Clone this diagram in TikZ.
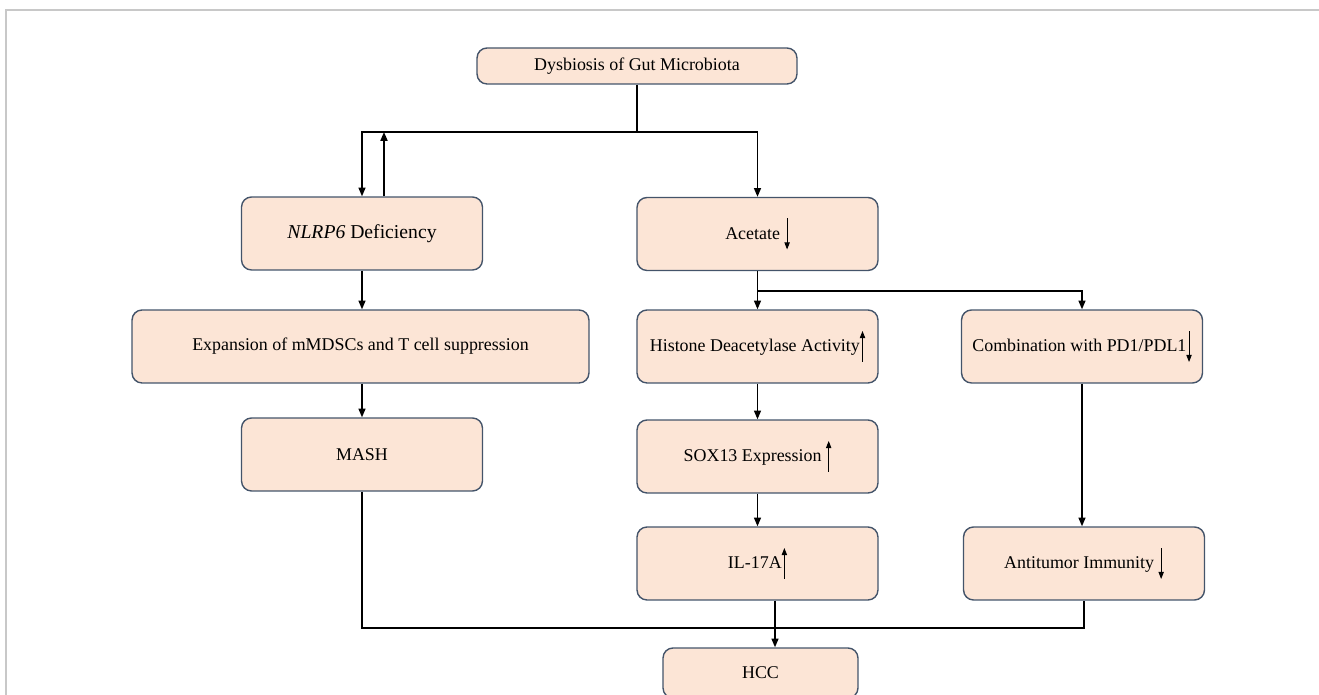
\documentclass[tikz,border=0pt]{standalone}
\usepackage{fontspec}
\setmainfont{Liberation Serif}
\usetikzlibrary{arrows.meta, positioning}

\definecolor{boxfill}{RGB}{252,229,214}
\definecolor{boxline}{RGB}{68,84,106}
\definecolor{framegray}{RGB}{200,200,200}

% small up / down arrows set inside the box texts
\newcommand{\uparr}{\tikz[baseline=0pt, x=1cm, y=1cm]\draw[line width=0.5pt, -{Triangle[length=4pt,width=3pt]}] (0,-0.2) -- (0,0.42);}
\newcommand{\dnarr}{\tikz[baseline=0pt, x=1cm, y=1cm]\draw[line width=0.5pt, -{Triangle[length=4pt,width=3pt]}] (0,0.42) -- (0,-0.2);}

\begin{document}
\begin{tikzpicture}[x=0.02cm, y=-0.02cm]
		\tikzset{block/.style = {shape=rectangle, rounded corners=0.2cm, draw=boxline, line width=0.8pt, fill=boxfill,
				minimum width=4.82cm, minimum height=1.46cm, inner sep=2pt, font=\fontsize{10.2}{12}\selectfont}}
		\tikzset{edge/.style = {line width=0.85pt, -{Triangle[length=5pt,width=4pt]}}}
		\tikzset{line/.style = {line width=0.85pt}}

		\useasboundingbox (0,0) rectangle (1319,695);
		\draw[framegray, line width=0.6pt] (6,700) -- (6,10) -- (1325,10);

		\node[block, minimum width=6.4cm, minimum height=0.72cm] (dys) at (637,66) {Dysbiosis of Gut Microbiota};
		\node[block, font=\fontsize{11.2}{13}\selectfont] (nlrp) at (362,233.5) {\textit{NLRP6} Deficiency};
		\node[block] (acet) at (757.5,234) {Acetate \dnarr};
		\node[block, minimum width=9.14cm] (expn) at (360.5,346.5) {Expansion of mMDSCs and T cell suppression};
		\node[block] (hda) at (757.5,346.5) {Histone Deacetylase Activity\uparr};
		\node[block] (comb) at (1082,346.5) {Combination with PD1/PDL1\dnarr};
		\node[block] (mash) at (362,454.5) {MASH};
		\node[block] (sox) at (757.5,456.5) {SOX13 Expression \uparr};
		\node[block] (il) at (757.5,563.5) {IL-17A\uparr};
		\node[block] (anti) at (1084,563.5) {Antitumor Immunity \dnarr};
		\node[block, minimum width=3.9cm, minimum height=1cm] (hcc) at (760.5,673) {HCC};

		\coordinate (top) at (637,132);
		\coordinate (back) at (384,132);
		\coordinate (fork) at (757.5,291);
		\coordinate (join) at (775,628);

		\draw[line] (dys.south) -- (top);
		\draw[edge] (top) -| (nlrp.north);
		\draw[edge] (top) -| (acet.north);
		\draw[edge] (nlrp.north -| back) -- (back);

		\draw[edge] (nlrp.south) -- (nlrp.south |- expn.north);
		\draw[edge] (mash.north |- expn.south) -- (mash.north);

		\draw[edge] (acet.south) -- (hda.north);
		\draw[edge] (fork) -| (comb.north);
		\draw[edge] (hda.south) -- (sox.north);
		\draw[edge] (sox.south) -- (il.north);
		\draw[edge] (comb.south) -- (comb.south |- anti.north);

		\draw[line] (mash.south) |- (anti.south |- join) -- (anti.south);
		\draw[edge] (il.south -| join) -- (hcc.north -| join);

	\end{tikzpicture}
\end{document}
